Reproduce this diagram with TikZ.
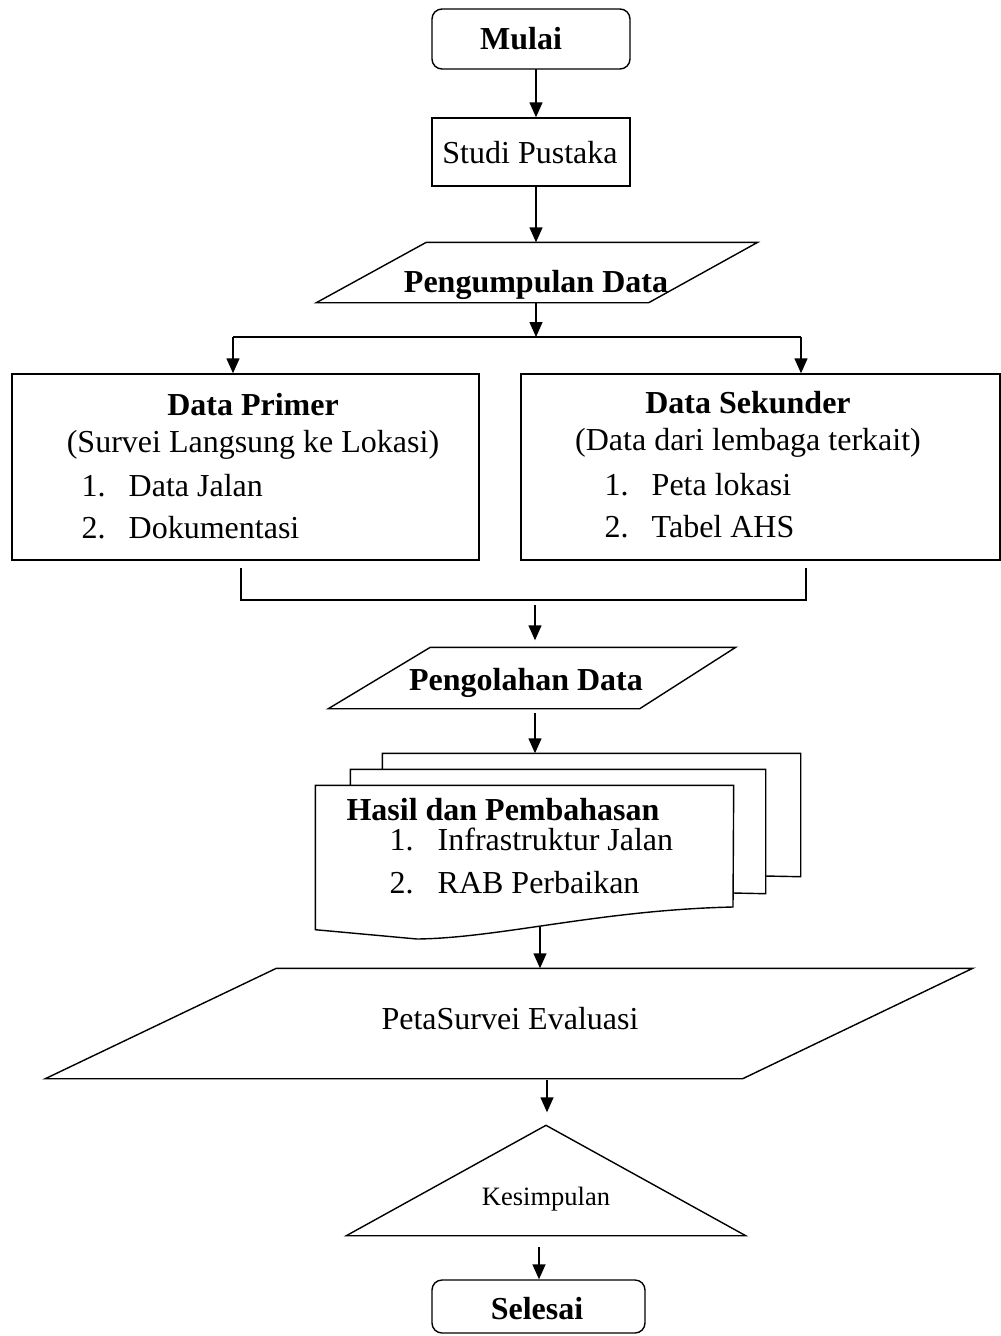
\documentclass[tikz,border=0pt]{standalone}
\usepackage{fontspec}
\setmainfont{Liberation Serif}
\usetikzlibrary{arrows.meta}
\newcommand\myfs{\fontsize{32}{38}\selectfont}
\begin{document}
\begin{tikzpicture}[x=1pt,y=-1pt,line width=1.4pt,
  shapebox/.style={draw,inner sep=0pt},
  ghost/.style={inner sep=0pt,draw=none},
  txt/.style={inner sep=0pt,anchor=base,font=\myfs},
  btxt/.style={inner sep=0pt,anchor=base,font=\myfs\bfseries},
  ltxt/.style={inner sep=0pt,anchor=base west,font=\myfs},
  arr/.style={-{Triangle[length=15pt,width=13pt]}}]
\useasboundingbox (0,0) rectangle (1001,1336);

% Mulai
\node[shapebox,rounded corners=10pt,minimum width=198pt,minimum height=60pt] (mulai) at (531,39) {};
\node[btxt] (tmulai) at (521,49) {Mulai};
% Studi Pustaka
\node[shapebox,minimum width=198pt,minimum height=68pt] (studi) at (531,152) {};
\node[txt] (tstudi) at (530,163) {Studi Pustaka};
% Pengumpulan Data
\node[ghost,minimum width=440pt,minimum height=59pt] (pgm) at (537,272.5) {};
\draw ([xshift=110pt]pgm.north west) -- (pgm.north east) -- ([xshift=-109pt]pgm.south east) -- (pgm.south west) -- cycle;
\node[btxt] (tpgm) at (536,292) {Pengumpulan Data};

% Data Primer
\node[shapebox,minimum width=467pt,minimum height=186pt] (primer) at (245.5,467) {};
\node[btxt] (tp1) at (253,415) {Data Primer};
\node[txt] (tp2) at (253,452) {(Survei Langsung ke Lokasi)};
\node[ltxt] (tp3n) at (81,496) {1.};
\node[ltxt] (tp3) at (128,496) {Data Jalan};
\node[ltxt] (tp4n) at (81,538) {2.};
\node[ltxt] (tp4) at (128,538) {Dokumentasi};
% Data Sekunder
\node[shapebox,minimum width=479pt,minimum height=186pt] (sekunder) at (760.5,467) {};
\node[btxt] (ts1) at (748,413) {Data Sekunder};
\node[txt] (ts2) at (748,450) {(Data dari lembaga terkait)};
\node[ltxt] (ts3n) at (604,495) {1.};
\node[ltxt] (ts3) at (651,495) {Peta lokasi};
\node[ltxt] (ts4n) at (604,537) {2.};
\node[ltxt] (ts4) at (651,537) {Tabel AHS};

% Pengolahan Data
\node[ghost,minimum width=406pt,minimum height=60pt] (olah) at (532,678) {};
\draw ([xshift=102pt]olah.north west) -- (olah.north east) -- ([xshift=-96pt]olah.south east) -- (olah.south west) -- cycle;
\node[btxt] (tolah) at (526,690) {Pengolahan Data};

% Hasil dan Pembahasan (multi document)
\node[ghost,minimum width=417pt,minimum height=122pt] (doc3) at (591.5,815) {};
\node[ghost,minimum width=414pt,minimum height=123pt] (doc2) at (558,831.5) {};
\node[ghost,minimum width=417pt,minimum height=143pt] (hasil) at (524.5,857.5) {};
\draw (doc3.west |- doc2.north) -- (doc3.north west) -- (doc3.north east) -- (doc3.south east) -- (765,876);
\draw (doc2.west |- hasil.north) -- (doc2.north west) -- (doc2.north east) -- (doc2.south east) -- (733,893);
\draw (hasil.south west) -- (hasil.north west) -- (hasil.north east) -- (733,907)
  .. controls (600,910) and (500,938) .. (417,939) -- cycle;
\node[btxt] (th1) at (503,820) {Hasil dan Pembahasan};
\node[ltxt] (th2n) at (389,850) {1.};
\node[ltxt] (th2) at (437,850) {Infrastruktur Jalan};
\node[ltxt] (th3n) at (389,893) {2.};
\node[ltxt] (th3) at (437,893) {RAB Perbaikan};

% PetaSurvei Evaluasi
\node[ghost,minimum width=926pt,minimum height=109pt] (peta) at (509,1023.5) {};
\draw ([xshift=231pt]peta.north west) -- (peta.north east) -- ([xshift=-230pt]peta.south east) -- (peta.south west) -- cycle;
\node[txt] (tpeta) at (510,1029) {PetaSurvei Evaluasi};

% Kesimpulan
\node[ghost,minimum width=398pt,minimum height=109pt] (kes) at (546,1180.5) {};
\draw (kes.south west) -- (kes.north) -- (kes.south east) -- cycle;
\node[inner sep=0pt,anchor=base,font=\fontsize{26.5}{32}\selectfont] (tkes) at (546,1205) {Kesimpulan};

% Selesai
\node[shapebox,rounded corners=10pt,minimum width=213pt,minimum height=53pt] (selesai) at (538.5,1306.5) {};
\node[btxt] (tsel) at (537,1319) {Selesai};

% connectors
\coordinate (a1) at (536,69);
\draw[arr] (a1) -- (a1 |- studi.north);
\coordinate (a2) at (536,186);
\draw[arr] (a2) -- (a2 |- pgm.north);
\coordinate (split) at (536,337);
\draw[arr] (split |- pgm.south) -- (split);
\coordinate (sl) at (233,337);
\coordinate (sr) at (801,337);
\draw (sl) -- (sr);
\draw[arr] (sl) -- (sl |- primer.north);
\draw[arr] (sr) -- (sr |- sekunder.north);
\coordinate (ml) at (241,568);
\coordinate (mr) at (806,568);
\coordinate (mbl) at (241,600);
\coordinate (mbr) at (806,600);
\draw (ml) -- (mbl) -- (mbr) -- (mr);
\coordinate (a4) at (535,605);
\draw[arr,shorten >=7pt] (a4) -- (a4 |- olah.north);
\coordinate (a5) at (535,713);
\draw[arr] (a5) -- (a5 |- doc3.north);
\coordinate (a6) at (540,927);
\draw[arr] (a6) -- (a6 |- peta.north);
\coordinate (a7) at (547,1080);
\draw[arr,shorten >=13pt] (a7) -- (a7 |- kes.north);
\coordinate (a8) at (539,1247);
\draw[arr] (a8) -- (a8 |- selesai.north);
\end{tikzpicture}
\end{document}
